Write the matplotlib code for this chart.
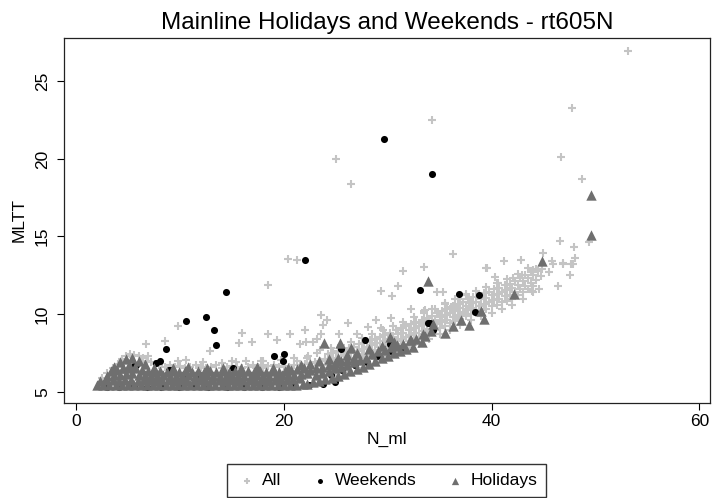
import matplotlib
matplotlib.use("Agg")
import matplotlib.pyplot as plt

plt.rcParams['font.family'] = ['Liberation Sans', 'DejaVu Sans']

# ---- All observations (light grey crosses) ----
# scattered points away from the main cloud
all_out_x = [53.15, 47.75, 34.25, 25.0, 26.45, 46.7, 48.75, 49.4, 46.6, 47.9, 48.05, 47.85,
             46.85, 45.8, 44.9, 42.85, 41.2, 39.55, 36.25, 33.5, 31.45, 30.95, 29.3, 30.4,
             32.25, 47.55, 46.4, 44.55, 43.85, 20.4, 21.25, 18.5, 23.55, 24.1, 23.8, 26.15,
             22.0, 9.75, 6.75, 8.55, 10.6, 12.9, 16.0, 15.7, 16.95, 18.5, 19.35, 20.55,
             23.55, 22.8, 22.1, 23.15, 21.55, 25.3, 14.95, 14.05, 18.0, 21.25,
             28.85, 30.35, 33.45, 28.1, 29.3, 27.05, 31.7, 33.2,
             44.0, 44.85, 45.5, 45.95, 46.85, 47.65, 42.9, 42.05, 40.35, 39.45, 40.6,
             38.75, 37.5, 35.3, 34.75, 35.5, 36.1, 37.0, 37.85, 33.6, 34.3, 35.2, 36.4, 37.35]
all_out_y = [26.95, 23.3, 22.5, 20.0, 18.4, 20.15, 18.7, 14.65, 14.7, 14.35, 13.6, 13.25,
             13.3, 13.4, 13.95, 13.5, 13.4, 12.95, 13.9, 13.05, 12.75, 11.8, 11.5, 11.15,
             10.3, 12.55, 11.8, 11.6, 11.5, 13.55, 13.5, 11.9, 9.95, 9.6, 9.3, 9.45,
             9.0, 9.2, 8.05, 8.25, 7.05, 7.6, 8.75, 8.15, 8.2, 8.7, 8.3, 8.7,
             8.7, 8.2, 8.2, 8.4, 8.05, 8.7, 7.0, 6.85, 6.95, 6.95,
             9.6, 9.75, 10.2, 9.15, 9.1, 8.7, 9.3, 9.45,
             12.85, 12.9, 12.7, 13.25, 13.25, 13.25, 12.5, 12.3, 12.4, 13.0, 12.0,
             11.3, 11.3, 11.4, 11.4, 10.7, 10.45, 10.95, 10.7, 10.25, 10.3, 9.95, 10.2, 10.15]

# fringe above the low band (x 2-24)
all_low_x = [2.5, 3.0, 3.5, 4.0, 4.4, 4.8, 5.2, 5.6, 6.0, 6.4, 6.8, 7.2, 4.6, 5.4, 6.2,
             7.6, 8.0, 8.5, 9.0, 9.5, 10.0, 10.5, 11.0, 11.5, 12.0, 12.5, 13.0, 13.5, 14.0,
             14.5, 15.0, 15.5, 16.0, 16.5, 17.0, 17.5, 18.0, 18.5, 19.0, 19.5, 20.0, 20.5,
             21.0, 21.5, 22.0, 22.5, 23.0, 23.5, 6.9, 9.8, 12.2, 16.3, 17.8, 19.7, 21.0,
             22.3, 23.2, 24.0, 15.4, 18.0, 22.2, 23.5]
all_low_y = [5.9, 6.2, 6.5, 6.8, 7.1, 7.3, 7.4, 7.35, 7.3, 7.2, 7.0, 6.9, 6.9, 7.0, 6.9,
             6.8, 6.7, 6.6, 6.7, 6.6, 6.65, 6.55, 6.6, 6.7, 6.6, 6.55, 6.6, 6.7, 6.55,
             6.6, 6.65, 6.6, 6.55, 6.6, 6.7, 6.6, 6.55, 6.65, 6.7, 6.6, 6.65, 6.6,
             6.7, 6.75, 6.8, 6.85, 6.9, 6.95, 7.3, 6.95, 6.9, 6.95, 7.0, 7.05, 7.2,
             7.3, 7.5, 7.1, 6.93, 6.72, 7.15, 7.7]

# main cloud along the rising curve (x 24-45)
all_cloud_x = [
    24.0, 24.5, 25.0, 25.5, 26.0, 26.5, 27.0, 27.5, 28.0, 28.5, 29.0, 29.5, 30.0, 30.5,
    31.0, 31.5, 32.0, 32.5, 33.0, 33.5, 34.0, 34.5, 35.0, 35.5, 36.0, 36.5, 37.0, 37.5,
    38.0, 38.5, 39.0, 39.5, 40.0, 40.5, 41.0, 41.5, 42.0, 42.5, 43.0, 43.5, 44.0,
    24.25, 24.75, 25.25, 25.75, 26.25, 26.75, 27.25, 27.75, 28.25, 28.75, 29.25, 29.75,
    30.25, 30.75, 31.25, 31.75, 32.25, 32.75, 33.25, 33.75, 34.25, 34.75, 35.25, 35.75,
    36.25, 36.75, 37.25, 37.75, 38.25, 38.75, 39.25, 39.75, 40.25, 40.75, 41.25, 41.75,
    42.25, 42.75, 43.25, 43.75, 44.25, 44.75,
    24.0, 24.5, 25.0, 25.5, 26.0, 26.5, 27.0, 27.5, 28.0, 28.5, 29.0, 29.5, 30.0, 30.5,
    31.0, 31.5, 32.0, 32.5, 33.0, 33.5, 34.0, 34.5, 35.0, 35.5, 36.0, 36.5, 37.0, 37.5,
    38.0, 38.5, 39.0, 39.5, 40.0, 40.5, 41.0, 41.5, 42.0, 42.5, 43.0, 43.5, 44.0, 44.5,
    24.25, 24.75, 25.25, 25.75, 26.25, 26.75, 27.25, 27.75, 28.25, 28.75, 29.25, 29.75,
    30.25, 30.75, 31.25, 31.75, 32.25, 32.75, 33.25, 33.75, 34.25, 34.75, 35.25, 35.75,
    36.25, 36.75, 37.25, 37.75, 38.25, 38.75, 39.25, 39.75, 40.25, 40.75, 41.25, 41.75,
    42.25, 42.75, 43.25, 43.75, 44.25,
    25.0, 26.0, 27.0, 28.0, 29.0, 30.0, 31.0, 32.0, 33.0, 34.0, 35.0, 36.0, 37.0, 38.0,
    39.0, 40.0, 41.0, 42.0, 43.0, 44.0,
    24.5, 25.5, 26.5, 27.5, 28.5, 29.5, 30.5, 31.5, 32.5, 33.5, 34.5, 35.5, 36.5, 37.5,
    38.5, 39.5, 40.5, 41.5, 42.5, 43.5]
all_cloud_y = [
    6.3, 6.45, 6.5, 6.6, 6.75, 6.8, 6.95, 7.1, 7.2, 7.3, 7.45, 7.6, 7.7, 7.85,
    8.0, 8.1, 8.25, 8.4, 8.5, 8.7, 8.8, 8.95, 9.1, 9.25, 9.4, 9.55, 9.7, 9.85,
    10.0, 10.1, 10.25, 10.35, 10.5, 10.6, 10.75, 10.85, 11.0, 11.2, 11.4, 11.6, 11.8,
    6.7, 6.8, 6.9, 7.0, 7.1, 7.2, 7.35, 7.45, 7.6, 7.7, 7.85, 7.95,
    8.1, 8.25, 8.4, 8.5, 8.65, 8.8, 8.9, 9.05, 9.2, 9.35, 9.5, 9.65,
    9.8, 9.95, 10.1, 10.25, 10.4, 10.5, 10.65, 10.75, 10.9, 11.0, 11.15, 11.25,
    11.4, 11.6, 11.8, 12.0, 12.2, 12.45,
    7.0, 7.1, 7.2, 7.3, 7.4, 7.5, 7.65, 7.75, 7.9, 8.0, 8.15, 8.25, 8.4, 8.55,
    8.7, 8.8, 8.95, 9.1, 9.2, 9.35, 9.5, 9.65, 9.8, 9.95, 10.1, 10.25, 10.4, 10.55,
    10.7, 10.8, 10.95, 11.05, 11.2, 11.3, 11.45, 11.55, 11.7, 11.9, 12.1, 12.3, 12.5, 12.75,
    7.4, 7.5, 7.6, 7.7, 7.8, 7.9, 8.05, 8.15, 8.3, 8.4, 8.55, 8.65,
    8.8, 8.95, 9.1, 9.2, 9.35, 9.5, 9.6, 9.75, 9.9, 10.05, 10.2, 10.35,
    10.5, 10.65, 10.8, 10.95, 11.1, 11.2, 11.35, 11.45, 11.6, 11.7, 11.85, 11.95,
    12.1, 12.3, 12.5, 12.7, 12.9,
    6.1, 6.3, 6.55, 6.8, 7.05, 7.3, 7.6, 7.85, 8.1, 8.4, 8.7, 9.0, 9.3, 9.6,
    9.85, 10.1, 10.35, 10.6, 11.0, 11.4,
    7.8, 8.0, 8.2, 8.45, 8.7, 8.95, 9.25, 9.5, 9.8, 10.05, 10.35, 10.65, 10.95, 11.25,
    11.5, 11.75, 12.0, 12.25, 12.6, 13.0]

all_x = all_out_x + all_low_x + all_cloud_x
all_y = all_out_y + all_low_y + all_cloud_y

# ---- Weekends (black dots) ----
wkd_x = [29.6, 34.3, 22.0, 14.4, 33.1, 36.85, 38.8, 12.5, 10.6, 38.4, 34.1, 34.35,
         13.25, 13.45, 8.65, 8.05, 7.7, 19.0, 20.0, 19.95, 25.5, 27.85, 30.25, 8.9,
         10.5, 5.6, 33.9,
         3.0, 4.1, 5.6, 6.8, 8.2, 9.9, 11.3, 12.7, 14.5, 16.2, 17.9, 19.5, 21.0, 22.4,
         23.8, 24.9, 5.8, 9.0, 11.55, 15.1, 24.5, 25.6, 26.8, 28.0, 29.0, 30.3, 31.5]
wkd_y = [21.3, 19.0, 13.5, 11.45, 11.55, 11.28, 11.2, 9.8, 9.58, 10.12, 9.45, 9.0,
         8.98, 8.0, 7.74, 6.97, 6.84, 7.3, 7.45, 6.95, 7.75, 8.36, 8.05, 6.37,
         6.15, 6.65, 9.43,
         5.33, 5.32, 5.35, 5.32, 5.33, 5.32, 5.34, 5.32, 5.33, 5.32, 5.33, 5.32, 5.35, 5.4,
         5.5, 5.62, 6.7, 6.4, 5.86, 6.55, 6.1, 6.4, 6.7, 6.9, 7.3, 7.6, 7.9]

# ---- Holidays (dark grey triangles) ----
hol_x = [
    # bottom row
    2.0, 2.6, 3.2, 3.8, 4.4, 5.0, 5.6, 6.2, 6.8, 7.4, 8.0, 8.6, 9.2, 9.8, 10.4, 11.0,
    11.6, 12.2, 12.8, 13.4, 14.0, 14.6, 15.2, 15.8, 16.4, 17.0, 17.6, 18.2, 18.8, 19.4,
    20.0, 20.6, 21.2, 21.8,
    # second row
    2.3, 2.9, 3.5, 4.1, 4.7, 5.3, 5.9, 6.5, 7.1, 7.7, 8.3, 8.9, 9.5, 10.1, 10.7, 11.3,
    11.9, 12.5, 13.1, 13.7, 14.3, 14.9, 15.5, 16.1, 16.7, 17.3, 17.9, 18.5, 19.1, 19.7,
    20.3, 20.9, 21.5,
    # third row
    3.0, 3.6, 4.2, 4.8, 5.4, 6.0, 6.6, 7.2, 7.8, 8.4, 9.0, 9.6, 10.2, 10.8, 11.4, 12.0,
    12.6, 13.2, 13.8, 14.4, 15.0, 15.6, 16.2, 16.8, 17.4, 18.0, 18.6, 19.2, 19.8, 20.4,
    21.0, 21.6, 22.2,
    # fourth row
    3.3, 3.9, 4.5, 5.1, 5.7, 6.3, 6.9, 7.5, 8.1, 8.7, 9.3, 9.9, 10.5, 11.1, 11.7, 12.3,
    12.9, 13.5, 14.1, 14.7, 15.3, 15.9, 16.5, 17.1, 17.7, 18.3, 18.9, 19.5, 20.1, 20.7,
    21.3, 21.9,
    # hump near x = 5
    3.6, 4.2, 4.8, 5.4, 6.0, 6.6, 5.1, 5.7, 4.5,
    # jagged top edge
    7.5, 9.3, 10.8, 12.6, 14.1, 15.9, 17.4, 18.9, 20.4, 21.6, 22.5, 23.4, 24.3, 25.2,
    26.1, 27.0,
    # band turning upward, x 22-27
    22.2, 22.8, 23.4, 24.0, 24.6, 25.2, 25.8, 26.4, 27.0, 23.1, 23.7, 24.3, 24.9, 25.5,
    26.1, 26.7, 27.3, 22.5, 23.1, 23.7, 24.3, 24.9, 25.5, 26.1, 26.7,
    # x 27-34
    27.6, 28.2, 28.8, 29.4, 30.0, 30.6, 31.2, 31.8, 32.4, 27.9, 28.5, 29.1, 29.7, 30.3,
    30.9, 31.5, 32.1, 32.7, 28.2, 29.4, 30.6, 33.3, 33.6,
    # sparse ones
    23.9, 25.4, 26.5, 30.2, 30.7, 32.25, 33.4, 34.2, 35.5, 36.3, 37.04, 37.85, 39.0,
    39.3, 42.15, 44.85, 33.88, 49.6, 49.56, 34.4]
hol_y = [
    5.42, 5.4, 5.45, 5.4, 5.42, 5.45, 5.4, 5.42, 5.4, 5.45, 5.42, 5.4, 5.43, 5.4, 5.45, 5.42,
    5.4, 5.42, 5.45, 5.4, 5.42, 5.4, 5.45, 5.42, 5.4, 5.43, 5.4, 5.45, 5.42, 5.4,
    5.42, 5.45, 5.45, 5.5,
    5.7, 5.75, 5.72, 5.7, 5.75, 5.72, 5.7, 5.73, 5.75, 5.7, 5.72, 5.75, 5.7, 5.72, 5.7, 5.75,
    5.72, 5.7, 5.73, 5.75, 5.7, 5.72, 5.7, 5.75, 5.72, 5.7, 5.73, 5.7, 5.75, 5.72,
    5.75, 5.8, 5.85,
    6.0, 6.05, 6.1, 6.15, 6.2, 6.1, 6.05, 6.0, 6.02, 6.05, 6.0, 6.03, 6.0, 6.05, 6.02, 6.0,
    6.05, 6.02, 6.0, 6.03, 6.05, 6.0, 6.02, 6.0, 6.05, 6.02, 6.0, 6.03, 6.05, 6.08,
    6.1, 6.15, 6.2,
    6.3, 6.4, 6.5, 6.55, 6.5, 6.4, 6.3, 6.28, 6.3, 6.25, 6.3, 6.28, 6.3, 6.25, 6.3, 6.28,
    6.3, 6.25, 6.3, 6.28, 6.3, 6.25, 6.3, 6.28, 6.3, 6.25, 6.3, 6.28, 6.35, 6.4,
    6.45, 6.5,
    6.6, 6.9, 7.1, 7.15, 7.0, 6.8, 6.7, 6.6, 6.5,
    6.55, 6.5, 6.6, 6.5, 6.55, 6.5, 6.6, 6.5, 6.55, 6.7, 6.8, 6.95, 7.1, 7.2,
    7.35, 7.5,
    5.5, 5.6, 5.7, 5.8, 5.9, 6.0, 6.15, 6.3, 6.45, 6.1, 6.2, 6.35, 6.5, 6.6,
    6.75, 6.9, 7.05, 6.4, 6.5, 6.6, 6.75, 6.85, 7.0, 7.05, 7.2,
    6.6, 6.8, 7.0, 7.2, 7.3, 7.5, 7.6, 7.75, 7.9, 7.2, 7.4, 7.6, 7.7, 7.85,
    8.0, 8.1, 8.3, 8.4, 7.75, 7.95, 8.2, 8.2, 8.6,
    8.12, 8.12, 7.8, 8.5, 7.95, 8.36, 8.7, 8.94, 8.75, 9.24, 9.61, 9.28, 10.18,
    9.71, 11.29, 13.42, 12.16, 17.7, 15.08, 9.39]

fig = plt.figure(figsize=(7.12, 4.98), dpi=100)
ax = fig.add_axes([0.0899, 0.1914, 0.9073, 0.7329])

ax.scatter(all_x, all_y, marker='+', s=36, linewidths=1.5, color='#c4c4c4', label='All', zorder=2)
ax.scatter(wkd_x, wkd_y, marker='o', s=26, color='black', linewidths=0, label='Weekends', zorder=3)
ax.scatter(hol_x, hol_y, marker='^', s=56, color='#6f6f6f', linewidths=0, label='Holidays', zorder=4)

ax.set_xlim(-1.18, 61.03)
ax.set_ylim(4.29, 27.81)
ax.set_xticks([0, 20, 40, 60])
ax.set_yticks([5, 10, 15, 20, 25])
ax.tick_params(direction='out', length=5, width=0.8, labelsize=12.5, pad=3)
ax.tick_params(axis='y', pad=5)
for lab in ax.get_yticklabels():
    lab.set_rotation(90)
    lab.set_va('center')
for sp in ax.spines.values():
    sp.set_linewidth(0.9)
    sp.set_color('#222222')

ax.set_title('Mainline Holidays and Weekends - rt605N', fontsize=17.5, pad=6)
ax.set_xlabel('N_ml', fontsize=12.5, labelpad=2)
ax.set_ylabel('MLTT', fontsize=12.5, labelpad=6)

fig.legend(loc='upper center', bbox_to_anchor=(0.5435, 0.085), ncol=3,
           fontsize=12.5, frameon=True, fancybox=False, edgecolor='black',
           markerscale=0.7, handletextpad=0.3, columnspacing=1.6, borderpad=0.5,
           handlelength=1.2)

fig.savefig('out.png', dpi=100)
